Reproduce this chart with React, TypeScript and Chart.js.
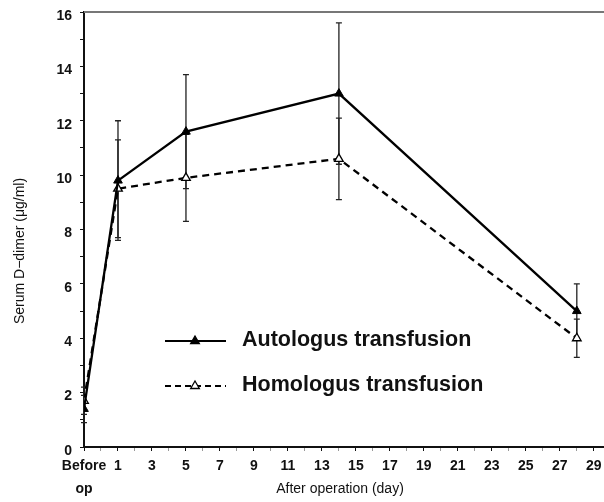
import React, { useEffect, useRef } from 'react';
import { Chart, registerables } from 'chart.js';

Chart.register(...registerables);

// ---- data ----
const days = [-1, 1, 5, 14, 28]; // -1 = "Before op"
const autologous = [1.4, 9.8, 11.6, 13.0, 5.0];
const autologousSD = [0.5, 2.2, 2.1, 2.6, 1.0];
const homologous = [1.7, 9.5, 9.9, 10.6, 4.0];
const homologousSD = [0.5, 1.8, 1.6, 1.5, 0.7];
const seriesLabels = ['Autologus transfusion', 'Homologus transfusion'];
const xTickLabels: Record<number, string | string[]> = {
  [-1]: ['Before', 'op'], 1: '1', 3: '3', 5: '5', 7: '7', 9: '9', 11: '11', 13: '13',
  15: '15', 17: '17', 19: '19', 21: '21', 23: '23', 25: '25', 27: '27', 29: '29',
};
const yTickLabels = ['0', '2', '4', '6', '8', '10', '12', '14', '16'];
const yTitle = 'Serum D\u2212dimer (\u03bcg/ml)';
const xTitle = 'After operation (day)';

const FONT = '"Liberation Sans", Arial, sans-serif';

const errorBars = {
  id: 'errorBars',
  beforeDatasetsDraw(chart: any) {
    const { ctx } = chart;
    const xs = chart.scales.x;
    const ys = chart.scales.y;
    const sets = [
      { v: autologous, e: autologousSD },
      { v: homologous, e: homologousSD },
    ];
    ctx.save();
    ctx.strokeStyle = '#222';
    ctx.lineWidth = 1.3;
    sets.forEach(({ v, e }) => {
      v.forEach((val, i) => {
        const x = xs.getPixelForValue(days[i]);
        const yt = ys.getPixelForValue(val + e[i]);
        const yb = ys.getPixelForValue(val - e[i]);
        ctx.beginPath();
        ctx.moveTo(x, yt);
        ctx.lineTo(x, yb);
        ctx.moveTo(x - 3, yt);
        ctx.lineTo(x + 3, yt);
        ctx.moveTo(x - 3, yb);
        ctx.lineTo(x + 3, yb);
        ctx.stroke();
      });
    });
    ctx.restore();
  },
};

function tri(ctx: CanvasRenderingContext2D, x: number, y: number, r: number, fill: string) {
  ctx.beginPath();
  ctx.moveTo(x, y - r);
  ctx.lineTo(x + r * 0.866, y + r * 0.5);
  ctx.lineTo(x - r * 0.866, y + r * 0.5);
  ctx.closePath();
  ctx.fillStyle = fill;
  ctx.fill();
  ctx.stroke();
}

const decorations = {
  id: 'decorations',
  afterDraw(chart: any) {
    const { ctx, chartArea } = chart;
    ctx.save();
    // top frame line
    ctx.strokeStyle = '#777';
    ctx.lineWidth = 2;
    ctx.beginPath();
    ctx.moveTo(chartArea.left, chartArea.top);
    ctx.lineTo(chartArea.right, chartArea.top);
    ctx.stroke();

    // legend
    const rows = [
      { y: 341, dash: [] as number[], fill: '#000' },
      { y: 386, dash: [6, 4], fill: '#fff' },
    ];
    rows.forEach((r, i) => {
      ctx.strokeStyle = '#000';
      ctx.lineWidth = 2;
      ctx.setLineDash(r.dash);
      ctx.beginPath();
      ctx.moveTo(165, r.y);
      ctx.lineTo(226, r.y);
      ctx.stroke();
      ctx.setLineDash([]);
      ctx.lineWidth = 1.3;
      tri(ctx, 195, r.y, 5, r.fill);
      ctx.fillStyle = '#111';
      ctx.font = `bold 21.5px ${FONT}`;
      ctx.textAlign = 'left';
      ctx.textBaseline = 'middle';
      ctx.fillText(chart.data.datasets[i].label, 242, r.y - 1);
    });

    // axis titles
    ctx.fillStyle = '#111';
    ctx.font = `14px ${FONT}`;
    ctx.textAlign = 'center';
    ctx.textBaseline = 'middle';
    ctx.fillText(xTitle, 340, 489);
    ctx.save();
    ctx.translate(20, 251);
    ctx.rotate(-Math.PI / 2);
    ctx.fillText(yTitle, 0, 0);
    ctx.restore();
    ctx.restore();
  },
};

export default function App() {
  const ref = useRef<HTMLCanvasElement | null>(null);
  useEffect(() => {
    if (!ref.current) return;
    const chart = new Chart(ref.current, {
      type: 'line',
      data: {
        datasets: [
          {
            label: seriesLabels[0],
            data: days.map((d, i) => ({ x: d, y: autologous[i] })),
            borderColor: '#000',
            backgroundColor: '#000',
            borderWidth: 2.3,
            pointStyle: 'triangle',
            pointRadius: 5,
            pointBorderWidth: 1,
            pointBackgroundColor: '#000',
            pointBorderColor: '#000',
            tension: 0,
          },
          {
            label: seriesLabels[1],
            data: days.map((d, i) => ({ x: d, y: homologous[i] })),
            borderColor: '#000',
            backgroundColor: '#fff',
            borderWidth: 2.3,
            borderDash: [7, 5],
            pointStyle: 'triangle',
            pointRadius: 5,
            pointBorderWidth: 1.3,
            pointBackgroundColor: '#fff',
            pointBorderColor: '#000',
            tension: 0,
          },
        ],
      },
      options: {
        responsive: false,
        animation: false,
        devicePixelRatio: 1,
        layout: { autoPadding: false, padding: { top: 12, left: 0, right: 0, bottom: 0 } },
        plugins: { legend: { display: false }, tooltip: { enabled: false } },
        scales: {
          x: {
            type: 'linear',
            min: -1,
            max: 29.6,
            afterBuildTicks(scale: any) {
              const t = [];
              for (let v = -1; v <= 29; v++) t.push({ value: v });
              scale.ticks = t;
            },
            afterFit(scale: any) {
              scale.height = 55;
              scale.paddingLeft = 0;
              scale.paddingRight = 0;
            },
            border: { display: true, color: '#111', width: 2 },
            grid: {
              display: true,
              drawOnChartArea: false,
              drawTicks: true,
              tickLength: 4,
              color: (c: any) => (c.tick && Math.abs(c.tick.value % 2) === 1 ? '#111' : '#999'),
            },
            ticks: {
              autoSkip: false,
              maxRotation: 0,
              minRotation: 0,
              padding: 4,
              color: '#111',
              font: { family: FONT, size: 14, weight: 'bold', lineHeight: '23px' as any },
              callback: (v: any) => (xTickLabels[v as number] ?? ''),
            },
          },
          y: {
            min: 0,
            max: 16,
            afterFit(scale: any) {
              scale.width = 84;
              scale.paddingTop = 0;
              scale.paddingBottom = 0;
            },
            border: { display: true, color: '#111', width: 2 },
            grid: {
              display: true,
              drawOnChartArea: false,
              drawTicks: true,
              tickLength: 4,
              color: '#111',
            },
            ticks: {
              stepSize: 1,
              autoSkip: false,
              padding: 8,
              labelOffset: 4,
              color: '#111',
              font: { family: FONT, size: 14, weight: 'bold' },
              callback: (v: any) => (v % 2 === 0 ? yTickLabels[v / 2] : ''),
            },
          },
        },
      },
      plugins: [errorBars, decorations],
    });
    return () => chart.destroy();
  }, []);
  return (
    <div style={{ position: 'fixed', left: 0, top: 0, width: 604, height: 502, background: '#fff' }}>
      <canvas ref={ref} width={604} height={502} style={{ display: 'block', width: 604, height: 502 }} />
    </div>
  );
}
